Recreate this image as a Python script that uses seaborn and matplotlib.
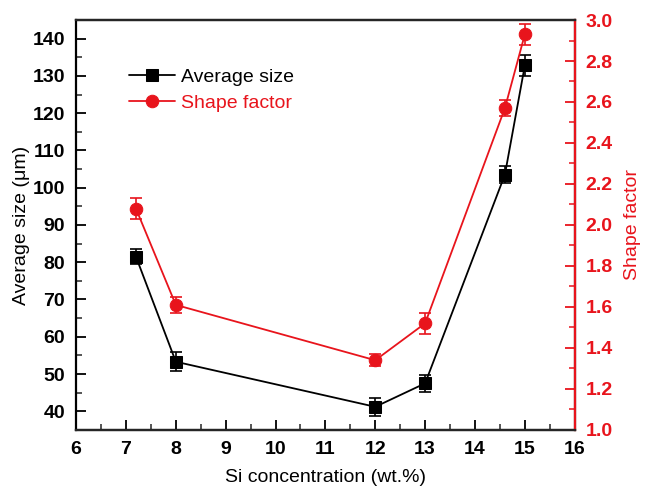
import numpy as np
import pandas as pd
import matplotlib
matplotlib.use("Agg")
import matplotlib.pyplot as plt
import seaborn as sns
from matplotlib.ticker import MultipleLocator

si_conc = [7.2, 8, 12, 13, 14.6, 15]
avg_size = [81.5, 53.3, 41.2, 47.5, 103.5, 132.8]
avg_err = [2.0, 2.6, 2.5, 2.2, 2.3, 2.8]
shape_factor = [2.08, 1.61, 1.34, 1.52, 2.57, 2.93]
shape_err = [0.05, 0.04, 0.03, 0.05, 0.04, 0.05]

df = pd.DataFrame({"si": si_conc, "avg": avg_size, "shape": shape_factor})

sns.set_style("ticks")
plt.rcParams["font.family"] = ["Liberation Sans", "DejaVu Sans"]
plt.rcParams["text.color"] = "black"
plt.rcParams["axes.labelcolor"] = "black"

fig = plt.figure(figsize=(6.45, 4.88), dpi=100)
ax = fig.add_axes([0.118, 0.119, 0.773, 0.840])
ax2 = ax.twinx()

red = "#e8141c"

# average size (left axis)
ax.errorbar(si_conc, avg_size, yerr=avg_err, fmt="none", ecolor="black",
            elinewidth=1.2, capsize=4, capthick=1.2)
sns.lineplot(data=df, x="si", y="avg", ax=ax, color="black", marker="s",
             markersize=8, markeredgecolor="black", linewidth=1.3)

# shape factor (right axis)
ax2.errorbar(si_conc, shape_factor, yerr=shape_err, fmt="none", ecolor=red,
             elinewidth=1.2, capsize=4, capthick=1.2)
sns.lineplot(data=df, x="si", y="shape", ax=ax2, color=red, marker="o",
             markersize=9, markeredgecolor=red, linewidth=1.3)

ax.set_xlim(6, 16)
ax.set_ylim(35, 145)
ax2.set_ylim(1.0, 3.0)

ax.xaxis.set_major_locator(MultipleLocator(1))
ax.xaxis.set_minor_locator(MultipleLocator(0.5))
ax.yaxis.set_major_locator(MultipleLocator(10))
ax.yaxis.set_minor_locator(MultipleLocator(5))
ax2.yaxis.set_major_locator(MultipleLocator(0.2))
ax2.yaxis.set_minor_locator(MultipleLocator(0.1))

ax.tick_params(axis="both", which="major", direction="in", length=7, width=1.3,
               labelsize=14, top=False, colors="black", pad=8)
ax.tick_params(axis="both", which="minor", direction="in", length=4, width=1.1, top=False)
ax2.tick_params(axis="y", which="major", direction="in", length=7, width=1.3,
                labelsize=14, colors=red, pad=8)
ax2.tick_params(axis="y", which="minor", direction="in", length=4, width=1.1, colors=red)

for lab in ax.get_xticklabels() + ax.get_yticklabels() + ax2.get_yticklabels():
    lab.set_fontweight("bold")

for sp in ax.spines.values():
    sp.set_linewidth(1.6)
    sp.set_color("black")
for sp in ax2.spines.values():
    sp.set_linewidth(1.6)
ax2.spines["right"].set_color(red)
ax2.spines["left"].set_visible(False)

ax.set_xlabel("Si concentration (wt.%)", fontsize=14, labelpad=8)
ax.set_ylabel("Average size (\u03bcm)", fontsize=14, labelpad=2)
ax2.set_ylabel("Shape factor", fontsize=14, color=red, labelpad=8)

h1 = ax.get_lines()[-1]
h2 = ax2.get_lines()[-1]
leg = ax.legend([h1, h2], ["Average size", "Shape factor"], loc="upper left",
                bbox_to_anchor=(0.07, 0.925), frameon=False, fontsize=14,
                handlelength=2.4, handletextpad=0.3, labelspacing=0.45)
leg.get_texts()[1].set_color(red)

fig.savefig("out.png", dpi=100)
